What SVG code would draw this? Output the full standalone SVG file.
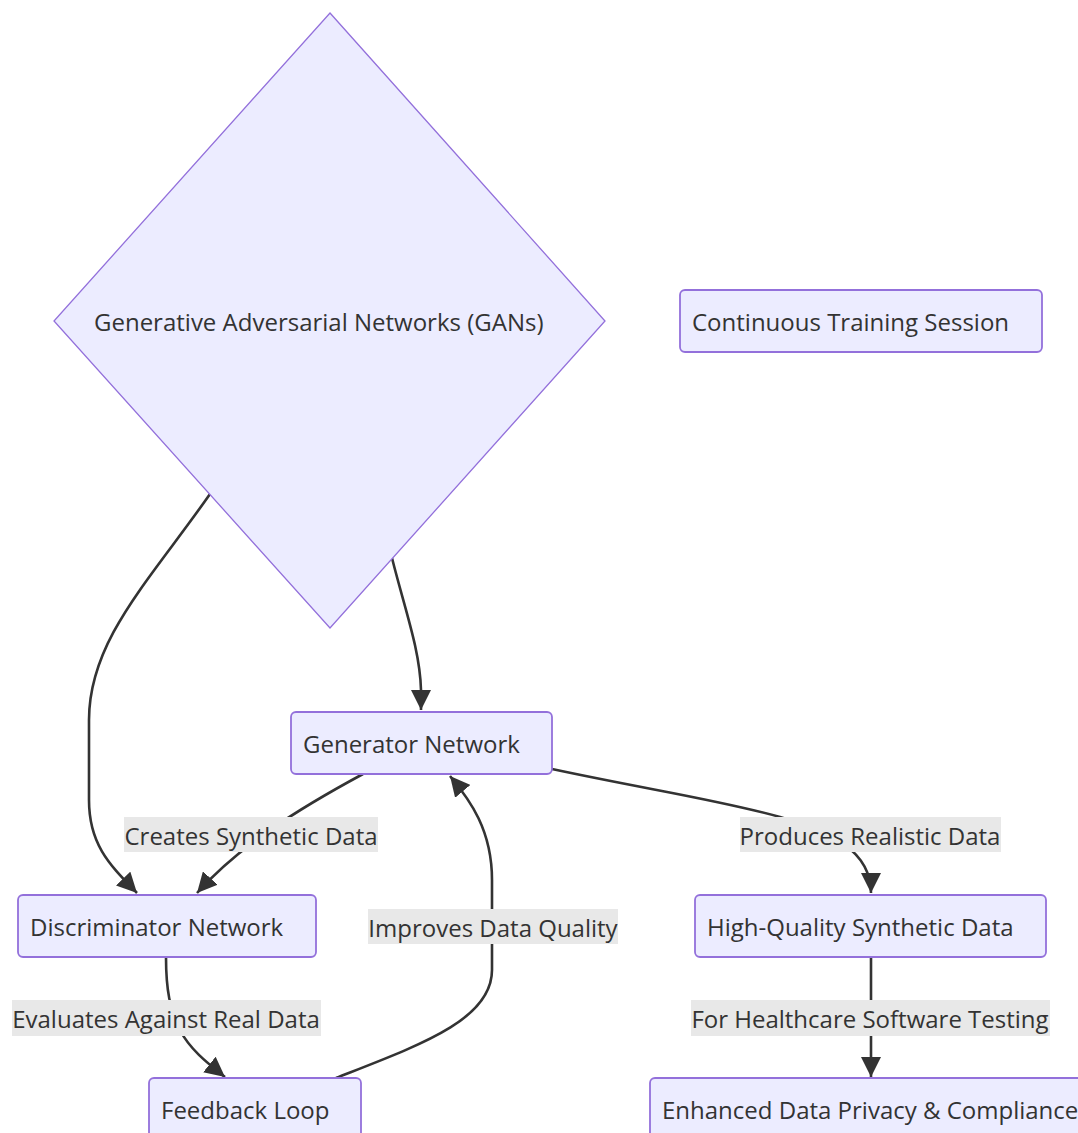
<svg xmlns="http://www.w3.org/2000/svg" width="1078" height="1133" viewBox="0 0 1078 1133">
<style>
.node rect,.node polygon{fill:#ECECFF;stroke:#9370DB;stroke-width:1.8}
.node polygon{stroke-width:1.3}
.nt{font-family:"Open Sans","Liberation Sans",sans-serif;font-size:24px;fill:#333;dominant-baseline:central}
.edge{fill:none;stroke:#333;stroke-width:2.6}
.lbg{fill:#e8e8e8}
.lt{font-family:"Open Sans","Liberation Sans",sans-serif;font-size:24px;fill:#333;text-anchor:middle;dominant-baseline:central}
</style>
<defs>
<marker id="arr" markerUnits="userSpaceOnUse" markerWidth="20" markerHeight="20" viewBox="0 0 10 10" refX="10" refY="5" orient="auto">
<path d="M0,0 L10,5 L0,10 z" fill="#333"/>
</marker>
</defs>
<rect width="1078" height="1133" fill="#fff"/>
<g id="connectors">
<path class="edge" d="M210,494 C150,580 89,640 89,720 L89,800 C89,845 110,865 137,893" marker-end="url(#arr)"/>
<path class="edge" d="M392,558 C405,610 420,650 421,690 L421,710" marker-end="url(#arr)"/>
<path class="edge" d="M363,774 C300,808 240,845 197,893" marker-end="url(#arr)"/>
<path class="edge" d="M552,769 C650,790 720,800 780,817 C830,832 871,850 871,893" marker-end="url(#arr)"/>
<path class="edge" d="M166,957 C166,990 170,1010 180,1030 C190,1050 210,1065 225,1077" marker-end="url(#arr)"/>
<path class="edge" d="M336,1078 C420,1045 492,1020 492,970 L492,880 C492,830 470,800 450,776" marker-end="url(#arr)"/>
<path class="edge" d="M871,957 L871,1077" marker-end="url(#arr)"/>
<rect class="lbg" x="124" y="817" width="254" height="35"/>
<text class="lt" x="251" y="835">Creates Synthetic Data</text>
<rect class="lbg" x="740" y="817" width="261" height="35"/>
<text class="lt" x="870" y="835">Produces Realistic Data</text>
<rect class="lbg" x="368" y="909" width="250" height="35"/>
<text class="lt" x="493" y="927">Improves Data Quality</text>
<rect class="lbg" x="12" y="1000" width="309" height="36"/>
<text class="lt" x="166" y="1018">Evaluates Against Real Data</text>
<rect class="lbg" x="691" y="1000" width="359" height="36"/>
<text class="lt" x="870" y="1018">For Healthcare Software Testing</text>
</g>
<g id="gans" class="node">
<polygon points="330,13 605,321 330,628 54,321"/>
<text class="nt" x="94" y="321">Generative Adversarial Networks (GANs)</text>
</g>
<g id="continuous" class="node">
<rect x="680" y="290" width="362" height="62" rx="5"/>
<text class="nt" x="692" y="321">Continuous Training Session</text>
</g>
<g id="generator" class="node">
<rect x="291" y="712" width="261" height="62" rx="5"/>
<text class="nt" x="303" y="743">Generator Network</text>
</g>
<g id="discriminator" class="node">
<rect x="18" y="895" width="298" height="62" rx="5"/>
<text class="nt" x="30" y="926">Discriminator Network</text>
</g>
<g id="highquality" class="node">
<rect x="695" y="895" width="351" height="62" rx="5"/>
<text class="nt" x="707" y="926">High-Quality Synthetic Data</text>
</g>
<g id="feedback" class="node">
<rect x="149" y="1078" width="212" height="62" rx="5"/>
<text class="nt" x="161" y="1109">Feedback Loop</text>
</g>
<g id="enhanced" class="node">
<rect x="650" y="1078" width="440" height="62" rx="5"/>
<text class="nt" x="662" y="1109">Enhanced Data Privacy &amp; Compliance</text>
</g>
</svg>
